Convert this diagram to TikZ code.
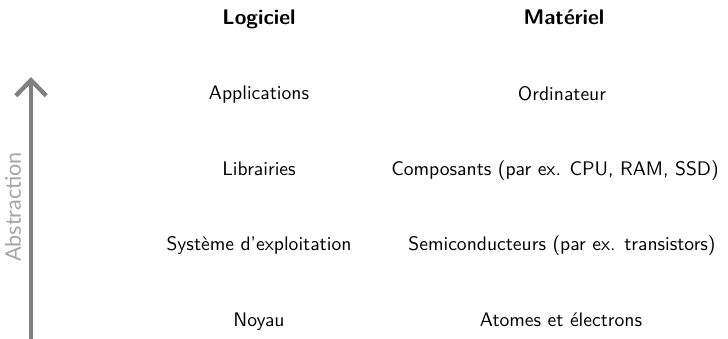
\documentclass[tikz,border=0pt]{standalone}
\usepackage{fontspec}
\setmainfont{Latin Modern Sans}
\newfontfamily\labelfont{Lato}
\usetikzlibrary{arrows.meta}
\definecolor{arrowgrey}{RGB}{128,128,128}
\definecolor{labelgrey}{RGB}{165,165,165}
\begin{document}
\begin{tikzpicture}[x=0.51pt,y=-0.51pt,
  head/.style={font=\bfseries\fontsize{10.8}{13}\selectfont, anchor=base},
  item/.style={anchor=base, inner sep=0pt},
  absarrow/.style={draw=arrowgrey, line width=2.2pt,
    -{Straight Barb[length=8pt,width=15.5pt,line width=2.2pt]}}]
  \useasboundingbox (0,0) rectangle (728,339);
  % column headings
  \node[head] (hsw) at (259,25) {Logiciel};
  \node[head] (hhw) at (564,25) {Matériel};
  % software layers
  \node[item] (app) at (259,100) {Applications};
  \node[item] (lib) at (259,176) {Librairies};
  \node[item] (os)  at (259,251) {Système d'exploitation};
  \node[item] (ker) at (259,327) {Noyau};
  % hardware layers
  \node[item] (pc)  at (562,101) {Ordinateur};
  \node[item] (cmp) at (555,176) {Composants (par ex. CPU, RAM, SSD)};
  \node[item] (sc)  at (562,251) {Semiconducteurs (par ex. transistors)};
  \node[item] (atm) at (561,327) {Atomes et électrons};
  % abstraction axis
  \coordinate (abot) at (31,340);
  \coordinate (atop) at (31,77);
  \draw[absarrow] (abot) -- (atop);
  \node[rotate=90, text=labelgrey, font=\labelfont\fontsize{11}{13}\selectfont] (abs) at (13,207) {Abstraction};
\end{tikzpicture}
\end{document}
